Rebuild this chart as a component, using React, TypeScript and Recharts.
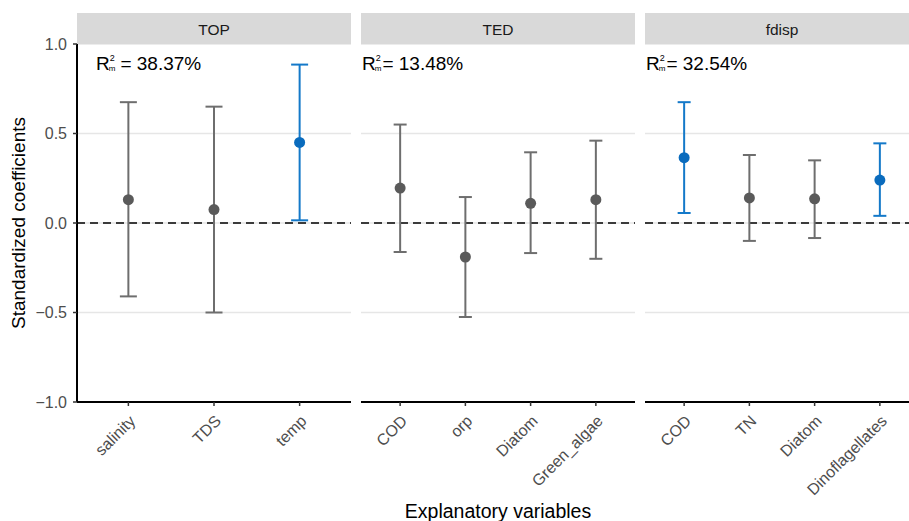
import { ScatterChart, Scatter, XAxis, YAxis, CartesianGrid, ReferenceLine, ErrorBar } from 'recharts';

// coefficient estimates with 95% CI
const topVars = ['salinity', 'TDS', 'temp'];
const topEst = [0.13, 0.075, 0.45];
const topLow = [-0.41, -0.5, 0.015];
const topHigh = [0.675, 0.65, 0.885];

const tedVars = ['COD', 'orp', 'Diatom', 'Green_algae'];
const tedEst = [0.195, -0.19, 0.11, 0.13];
const tedLow = [-0.162, -0.525, -0.168, -0.2];
const tedHigh = [0.55, 0.145, 0.395, 0.46];

const fdispVars = ['COD', 'TN', 'Diatom', 'Dinoflagellates'];
const fdispEst = [0.365, 0.14, 0.135, 0.24];
const fdispLow = [0.056, -0.1, -0.084, 0.04];
const fdispHigh = [0.675, 0.38, 0.35, 0.445];

const facetTitles = ['TOP', 'TED', 'fdisp'];
const r2Labels = ['38.37%', '13.48%', '32.54%'];
const yTicks = [-1, -0.5, 0, 0.5, 1];

const CHART_W = 920;
const CHART_H = 521;
const PLOT_TOP = 44;
const PLOT_BOTTOM = 402;
const X_AXIS_H = 60;
const FONT = '"Liberation Sans", Arial, Helvetica, sans-serif';
const GREY_LINE = '#6e6e6e';
const GREY_PT = '#5a5a5a';
const BLUE_LINE = '#1479c9';
const BLUE_PT = '#0a6bbd';

interface Row {
  pos: number;
  name: string;
  est: number;
  err: [number, number];
  sig: boolean;
}

function buildRows(vars: string[], est: number[], low: number[], high: number[]): Row[] {
  return vars.map((name, i) => ({
    pos: i + 1,
    name,
    est: est[i],
    err: [est[i] - low[i], high[i] - est[i]],
    sig: low[i] > 0 || high[i] < 0,
  }));
}

function fmtY(v: number): string {
  const s = Math.abs(v).toFixed(1);
  return v < 0 ? `\u2212${s}` : s;
}

interface PanelProps {
  vars: string[];
  est: number[];
  low: number[];
  high: number[];
  left: number;
  right: number;
  showY: boolean;
  cap: number;
}

function Panel({ vars, est, low, high, left, right, showY, cap }: PanelProps) {
  const rows = buildRows(vars, est, low, high);
  const greyRows = rows.filter((r) => !r.sig);
  const blueRows = rows.filter((r) => r.sig);
  const ticks = rows.map((r) => r.pos);

  const renderTick = (props: any) => {
    const { x, y, payload } = props;
    const label = vars[payload.value - 1] ?? '';
    const ax = x + 8;
    const ay = y + 14;
    return (
      <text
        x={ax}
        y={ay}
        textAnchor="end"
        fill="#4d4d4d"
        fontSize={16}
        fontFamily={FONT}
        transform={`rotate(-45, ${ax}, ${ay})`}
      >
        {label}
      </text>
    );
  };

  const dot = (color: string) => (p: any) => <circle cx={p.cx} cy={p.cy} r={5.5} fill={color} />;

  return (
    <div style={{ position: 'absolute', left: 0, top: 0 }}>
      <ScatterChart
        width={CHART_W}
        height={CHART_H}
        margin={{
          top: PLOT_TOP,
          right: CHART_W - right,
          bottom: CHART_H - PLOT_BOTTOM - X_AXIS_H,
          left: showY ? 0 : left,
        }}
      >
        <CartesianGrid vertical={false} stroke="#e6e6e6" strokeWidth={1.3} />
        <XAxis
          type="number"
          dataKey="pos"
          domain={[0.4, vars.length + 0.6]}
          allowDataOverflow
          ticks={ticks}
          interval={0}
          height={X_AXIS_H}
          axisLine={{ stroke: '#000', strokeWidth: 2 }}
          tickLine={{ stroke: '#333', strokeWidth: 1.5 }}
          tickSize={4}
          tick={renderTick}
        />
        <YAxis
          type="number"
          dataKey="est"
          domain={[-1, 1]}
          allowDataOverflow
          ticks={yTicks}
          interval={0}
          hide={!showY}
          width={77}
          axisLine={{ stroke: '#000', strokeWidth: 2 }}
          tickLine={{ stroke: '#333', strokeWidth: 1.5 }}
          tickSize={4}
          tickMargin={6}
          tickFormatter={fmtY}
          tick={{ fill: '#4d4d4d', fontSize: 16, fontFamily: FONT }}
        />
        <ReferenceLine y={0} stroke="#000" strokeWidth={1.5} strokeDasharray="8 5" />
        <Scatter data={greyRows} isAnimationActive={false} shape={dot(GREY_PT)}>
          <ErrorBar dataKey="err" direction="y" width={cap} stroke={GREY_LINE} strokeWidth={2} />
        </Scatter>
        <Scatter data={blueRows} isAnimationActive={false} shape={dot(BLUE_PT)}>
          <ErrorBar dataKey="err" direction="y" width={cap} stroke={BLUE_LINE} strokeWidth={2} />
        </Scatter>
      </ScatterChart>
    </div>
  );
}

const panels = [
  { left: 77, right: 351 },
  { left: 361, right: 635 },
  { left: 645, right: 919 },
];
const r2X = [96, 362, 646];

function R2({ x, value, gap }: { x: number; value: string; gap: boolean }) {
  return (
    <text x={x} y={70} fontSize={19} fontFamily={FONT} fill="#000">
      R
      <tspan fontSize={9} dy={-9}>2</tspan>
      <tspan fontSize={8} dx={-6} dy={10}>m</tspan>
      <tspan fontSize={19} dx={gap ? 5 : 1} dy={-1}>= {value}</tspan>
    </text>
  );
}

export default function App() {
  return (
    <div
      style={{
        position: 'absolute',
        left: 0,
        top: 0,
        width: 909,
        height: 521,
        overflow: 'hidden',
        background: '#fff',
        fontFamily: FONT,
      }}
    >
      <Panel vars={topVars} est={topEst} low={topLow} high={topHigh} left={77} right={351} showY cap={8.5} />
      <Panel vars={tedVars} est={tedEst} low={tedLow} high={tedHigh} left={361} right={635} showY={false} cap={6.5} />
      <Panel vars={fdispVars} est={fdispEst} low={fdispLow} high={fdispHigh} left={645} right={919} showY={false} cap={6.5} />
      <svg width={CHART_W} height={CHART_H} style={{ position: 'absolute', left: 0, top: 0, pointerEvents: 'none' }}>
        {panels.map((p, i) => (
          <g key={facetTitles[i]}>
            <rect x={p.left} y={13} width={p.right - p.left} height={31} fill="#d9d9d9" />
            <text x={(p.left + p.right) / 2} y={34.5} textAnchor="middle" fontSize={15.5} fill="#1a1a1a" fontFamily={FONT}>
              {facetTitles[i]}
            </text>
          </g>
        ))}
        {r2Labels.map((v, i) => (
          <R2 key={v} x={r2X[i]} value={v} gap={i === 0} />
        ))}
        <text
          x={25}
          y={223}
          textAnchor="middle"
          fontSize={19}
          fontFamily={FONT}
          fill="#000"
          transform="rotate(-90, 25, 223)"
        >
          Standardized coefficients
        </text>
        <text x={498} y={518} textAnchor="middle" fontSize={19.5} fontFamily={FONT} fill="#000">
          Explanatory variables
        </text>
      </svg>
    </div>
  );
}
